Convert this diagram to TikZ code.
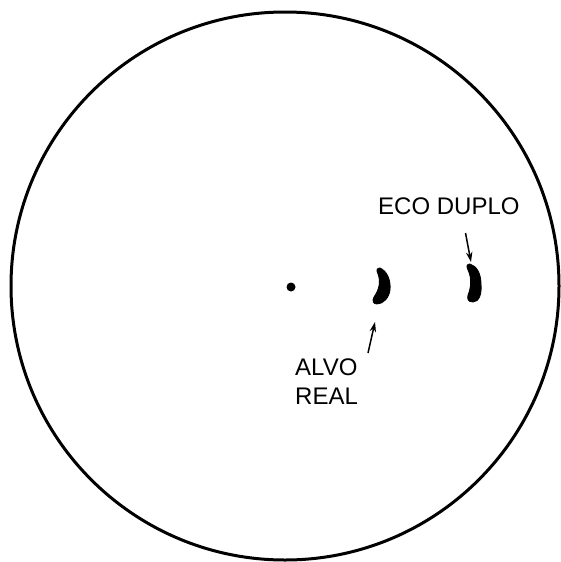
\documentclass[tikz,border=0pt]{standalone}
\usepackage{fontspec}
\setmainfont{Liberation Sans}
\usetikzlibrary{arrows.meta}
\begin{document}
\begin{tikzpicture}[x=1pt,y=-1pt,
  scope/.style={line width=3pt},
  blip/.style={fill=black,draw=black,line width=0.8pt,line join=round},
  pointer/.style={line width=1.5pt,-{Stealth[length=10pt,width=6.5pt]}},
  lbl/.style={inner sep=0pt,font=\fontsize{24}{29}\selectfont}]
\useasboundingbox (0,0) rectangle (560,562);
% radar scope
\draw[scope] (285,286) circle[radius=274];
% centre dot
\fill (291,287) circle[radius=4.5];
% real target blip
\path[blip] (380,268) .. controls (387,271) and (391,280) .. (390,290)
  .. controls (389,298) and (383,304) .. (377,304)
  .. controls (373,304) and (372,301) .. (374,297)
  .. controls (379,290) and (381,282) .. (378,274)
  .. controls (376,270) and (377,268) .. (380,268) -- cycle;
\coordinate (real) at (375,322);
% double echo blip
\path[blip] (470,264) .. controls (477,266) and (481,274) .. (481,284)
  .. controls (482,294) and (479,302) .. (473,302)
  .. controls (468,302) and (467,299) .. (468,295)
  .. controls (471,288) and (472,278) .. (468,270)
  .. controls (466,266) and (467,264) .. (470,264) -- cycle;
\coordinate (echo) at (471,262);
% labels
\node[lbl,anchor=base west] (ecolbl) at (378,214) {ECO DUPLO};
\node[lbl,anchor=north west,align=left] (alvolbl) at (295,358.5) {ALVO\\REAL};
\coordinate (ecotail) at (465.5,233);
\coordinate (alvotail) at (368,353);
% pointers
\draw[pointer] (ecotail) -- (echo);
\draw[pointer] (alvotail) -- (real);
\end{tikzpicture}
\end{document}
